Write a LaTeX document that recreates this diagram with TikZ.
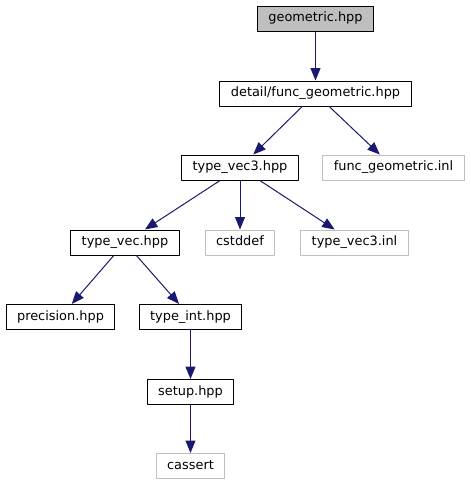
\documentclass[tikz,border=0pt]{standalone}
\usepackage{fontspec}
\setmainfont{DejaVu Sans}
\usetikzlibrary{arrows.meta}
\definecolor{edgeblue}{HTML}{191970}
\definecolor{extgray}{HTML}{BFBFBF}
\begin{document}
\begin{tikzpicture}[x=1pt,y=-1pt,line join = round,
	file/.style={draw=black,line width=1pt,minimum height=25pt,inner xsep=11pt,inner ysep=0pt,
		font=\fontsize{12.9}{15}\selectfont,text height=9.5pt,text depth=2.7pt},
	ext/.style={file,draw=extgray},
	top/.style={file,fill=extgray},
	dep/.style={-{Triangle[length=12.5pt,width=10pt]},edgeblue,line width=1pt}]
	\useasboundingbox (0,0) rectangle (470,485);
	%Vẽ các tệp
	\node[top] (geo) at (315.5,18.5) {geometric.hpp};
	\node[file] (fgeo) at (315.5,93.5) {detail/func\_geometric.hpp};
	\node[file] (vec3) at (240,167.5) {type\_vec3.hpp};
	\node[ext] (fgeoinl) at (393.5,167.5) {func\_geometric.inl};
	\node[file] (vec) at (125,242.5) {type\_vec.hpp};
	\node[ext] (cstddef) at (240,242.5) {cstddef};
	\node[ext] (vec3inl) at (354.5,242.5) {type\_vec3.inl};
	\node[file] (prec) at (60.5,317) {precision.hpp};
	\node[file] (int) at (190.5,317) {type\_int.hpp};
	\node[file] (setup) at (190.5,392) {setup.hpp};
	\node[ext] (cassert) at (190.5,466) {cassert};
	%Vẽ các mũi tên
	\foreach \a/\b in {geo/fgeo,fgeo/vec3,fgeo/fgeoinl,vec3/vec,vec3/cstddef,vec3/vec3inl,
		vec/prec,vec/int,int/setup,setup/cassert}
		\draw[dep] (\a) -- (\b);
\end{tikzpicture}
\end{document}
